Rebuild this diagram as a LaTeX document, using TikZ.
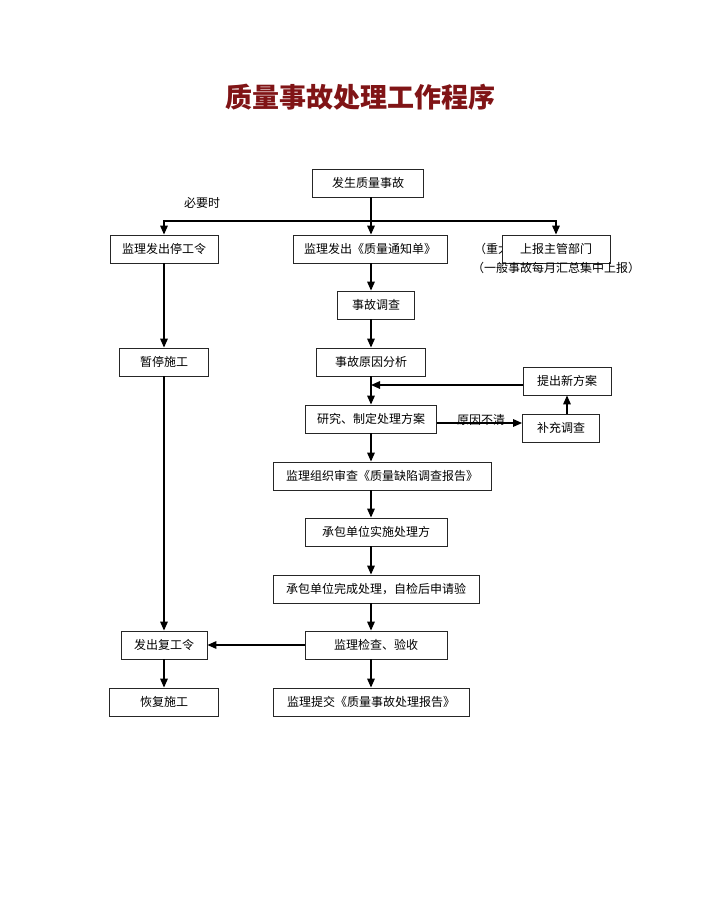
\documentclass[tikz,border=0pt]{standalone}
\usepackage{fontspec}
\newfontfamily\cjk{Noto Sans CJK SC}
\usetikzlibrary{arrows.meta, positioning}
\definecolor{titlered}{RGB}{128,20,22}
\tikzset{
  stepbox/.style = {rectangle, draw=black!85, line width=0.8pt, fill=white, minimum height=28pt, inner sep=0pt, text centered, font=\cjk\fontsize{12}{12}\selectfont},
  flow/.style = {-{Triangle[length=9pt,width=7.5pt]}, line width=1.5pt, black},
  note/.style = {font=\cjk\fontsize{12}{12}\selectfont, inner sep=0pt}
}

\begin{document}
\begin{tikzpicture}[x=1pt, y=-1pt]
  \useasboundingbox (0,0) rectangle (720,921);

  % Title
  \node (title) at (360,97) [font=\cjk\bfseries\fontsize{27}{27}\selectfont, text=titlered] {质量事故处理工作程序};

  % Main column
  \coordinate (spine) at (371,0);
  \node (accident) [stepbox, minimum width=111pt] at (368,183) {发生质量事故};
  \node (notice) [stepbox, minimum width=154pt] at (370,249) {监理发出《质量通知单》};
  \node (survey) [stepbox, minimum width=77pt] at (376,305) {事故调查};
  \node (cause) [stepbox, minimum width=109pt] at (371,362) {事故原因分析};
  \node (plan) [stepbox, minimum width=131pt] at (371,419) {研究、制定处理方案};
  \node (review) [stepbox, minimum width=218pt] at (382,476) {监理组织审查《质量缺陷调查报告》};
  \node (implement) [stepbox, minimum width=142pt] at (376,532) {承包单位实施处理方};
  \node (complete) [stepbox, minimum width=206pt] at (376,589) {承包单位完成处理，自检后申请验};
  \node (inspect) [stepbox, minimum width=142pt] at (376,645) {监理检查、验收};
  \node (submit) [stepbox, minimum width=196pt] at (371,702) {监理提交《质量事故处理报告》};

  % Left column
  \node (stoporder) [stepbox, minimum width=108pt] at (164,249) {监理发出停工令};
  \node (pause) [stepbox, minimum width=89pt] at (164,362) {暂停施工};
  \node (restart) [stepbox, minimum width=86pt] at (164,645) {发出复工令};
  \node (resume) [stepbox, minimum width=109pt] at (164,702) {恢复施工};

  % Right side
  \node (heavy) [note, anchor=west] at (474,249) {（重大};
  \node (reportup) [stepbox, minimum width=108pt] at (556,249) {上报主管部门};
  \node (general) [note, anchor=west] at (472,268) {（一般事故每月汇总集中上报）};
  \node (newplan) [stepbox, minimum width=88pt] at (567,381) {提出新方案};
  \node (supp) [stepbox, minimum width=77pt] at (561,428) {补充调查};

  % Connecting Nodes
  \coordinate (split) at (371,221);
  \node (needed) [note] at (202,203) {必要时};
  \draw[flow] (accident.south -| spine) -- (notice.north -| spine);
  \draw[flow] (split) -| (stoporder);
  \draw[flow] (split) -| (reportup);
  \draw[flow] (notice.south -| spine) -- (survey.north -| spine);
  \draw[flow] (survey.south -| spine) -- (cause.north -| spine);
  \draw[flow] (cause.south -| spine) -- (plan.north -| spine);
  \draw[flow] (plan.south -| spine) -- (review.north -| spine);
  \draw[flow] (review.south -| spine) -- (implement.north -| spine);
  \draw[flow] (implement.south -| spine) -- (complete.north -| spine);
  \draw[flow] (complete.south -| spine) -- (inspect.north -| spine);
  \draw[flow] (inspect.south -| spine) -- (submit.north -| spine);

  \draw[flow] (stoporder) -- (pause);
  \draw[flow] (pause) -- (restart);
  \draw[flow] (restart) -- (resume);
  \draw[flow] (inspect) -- (restart);

  \draw[flow] ([yshift=-4pt]plan.east) -- node[note, pos=0.52] (unclear) [above=-3pt] {原因不清} ([yshift=-4pt]plan.east -| supp.west);
  \draw[flow] (supp.north -| newplan) -- (newplan.south);
  \draw[flow] ([yshift=-4pt]newplan.west) -- ([yshift=-4pt]newplan.west -| spine);
\end{tikzpicture}
\end{document}
